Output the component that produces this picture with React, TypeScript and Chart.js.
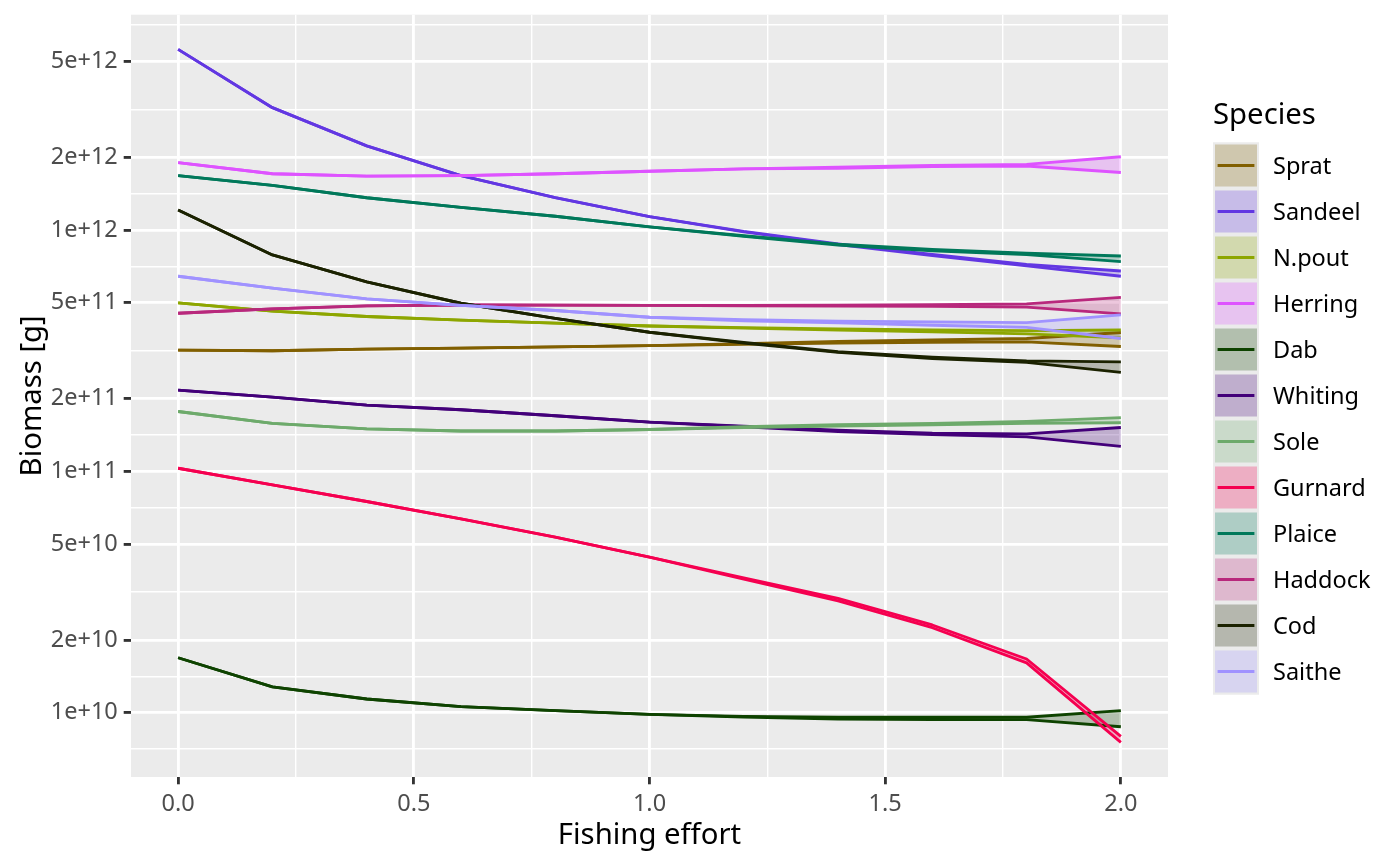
import React, { useEffect, useRef } from "react";
import { Chart, registerables } from "chart.js";

Chart.register(...registerables);

const FONT = '"Noto Sans", "Open Sans", sans-serif';

// Fishing effort values (x)
const effort = [0, 0.2, 0.4, 0.6, 0.8, 1.0, 1.2, 1.4, 1.6, 1.8, 2.0];

const speciesNames = [
  "Sprat", "Sandeel", "N.pout", "Herring", "Dab", "Whiting",
  "Sole", "Gurnard", "Plaice", "Haddock", "Cod", "Saithe",
];
const speciesColours = [
  "#815f00", "#6237e2", "#8da600", "#de53ff", "#0e4300", "#430079",
  "#6daa6b", "#f50050", "#00785a", "#b8287c", "#1b2200", "#a092ff",
];

// Biomass [g] – upper and lower bounds per species
const spratUpper = [3.18e11, 3.16e11, 3.21e11, 3.24e11, 3.28e11, 3.32e11, 3.38e11, 3.45e11, 3.5e11, 3.55e11, 3.76e11];
const spratLower = [3.18e11, 3.16e11, 3.21e11, 3.24e11, 3.28e11, 3.32e11, 3.36e11, 3.4e11, 3.42e11, 3.44e11, 3.29e11];

const sandeelUpper = [5.6e12, 3.21e12, 2.23e12, 1.68e12, 1.36e12, 1.135e12, 9.86e11, 8.76e11, 7.92e11, 7.2e11, 6.76e11];
const sandeelLower = [5.6e12, 3.21e12, 2.23e12, 1.68e12, 1.36e12, 1.135e12, 9.82e11, 8.7e11, 7.84e11, 7.1e11, 6.43e11];

const npoutUpper = [4.99e11, 4.61e11, 4.38e11, 4.23e11, 4.11e11, 4.0e11, 3.94e11, 3.89e11, 3.85e11, 3.83e11, 3.85e11];
const npoutLower = [4.99e11, 4.61e11, 4.38e11, 4.23e11, 4.11e11, 4.0e11, 3.92e11, 3.85e11, 3.78e11, 3.71e11, 3.57e11];

const herringUpper = [1.9e12, 1.71e12, 1.67e12, 1.68e12, 1.71e12, 1.75e12, 1.79e12, 1.82e12, 1.85e12, 1.87e12, 2.01e12];
const herringLower = [1.9e12, 1.71e12, 1.67e12, 1.68e12, 1.71e12, 1.75e12, 1.79e12, 1.8e12, 1.83e12, 1.84e12, 1.73e12];

const dabUpper = [1.69e10, 1.28e10, 1.14e10, 1.06e10, 1.02e10, 9.84e9, 9.66e9, 9.59e9, 9.58e9, 9.58e9, 1.02e10];
const dabLower = [1.69e10, 1.28e10, 1.14e10, 1.06e10, 1.02e10, 9.84e9, 9.6e9, 9.42e9, 9.38e9, 9.36e9, 8.75e9];

const whitingUpper = [2.17e11, 2.03e11, 1.88e11, 1.8e11, 1.7e11, 1.6e11, 1.54e11, 1.48e11, 1.44e11, 1.43e11, 1.52e11];
const whitingLower = [2.17e11, 2.03e11, 1.88e11, 1.8e11, 1.7e11, 1.6e11, 1.53e11, 1.46e11, 1.42e11, 1.39e11, 1.27e11];

const soleUpper = [1.77e11, 1.58e11, 1.5e11, 1.47e11, 1.47e11, 1.49e11, 1.53e11, 1.56e11, 1.58e11, 1.61e11, 1.67e11];
const soleLower = [1.77e11, 1.58e11, 1.5e11, 1.47e11, 1.47e11, 1.49e11, 1.52e11, 1.54e11, 1.56e11, 1.58e11, 1.59e11];

const gurnardUpper = [1.03e11, 8.79e10, 7.5e10, 6.35e10, 5.34e10, 4.41e10, 3.62e10, 2.98e10, 2.31e10, 1.67e10, 7.98e9];
const gurnardLower = [1.03e11, 8.79e10, 7.5e10, 6.35e10, 5.34e10, 4.41e10, 3.58e10, 2.91e10, 2.25e10, 1.61e10, 7.54e9];

const plaiceUpper = [1.68e12, 1.53e12, 1.36e12, 1.24e12, 1.14e12, 1.03e12, 9.46e11, 8.74e11, 8.3e11, 8.02e11, 7.8e11];
const plaiceLower = [1.68e12, 1.53e12, 1.36e12, 1.24e12, 1.14e12, 1.03e12, 9.42e11, 8.66e11, 8.2e11, 7.9e11, 7.39e11];

const haddockUpper = [4.52e11, 4.71e11, 4.85e11, 4.89e11, 4.88e11, 4.87e11, 4.87e11, 4.88e11, 4.9e11, 4.94e11, 5.26e11];
const haddockLower = [4.52e11, 4.71e11, 4.85e11, 4.89e11, 4.88e11, 4.87e11, 4.85e11, 4.84e11, 4.83e11, 4.79e11, 4.49e11];

const codUpper = [1.21e12, 7.88e11, 6.1e11, 4.97e11, 4.3e11, 3.77e11, 3.42e11, 3.13e11, 2.97e11, 2.87e11, 2.84e11];
const codLower = [1.21e12, 7.88e11, 6.1e11, 4.97e11, 4.3e11, 3.77e11, 3.4e11, 3.11e11, 2.93e11, 2.83e11, 2.57e11];

const saitheUpper = [6.43e11, 5.74e11, 5.18e11, 4.87e11, 4.64e11, 4.35e11, 4.25e11, 4.19e11, 4.16e11, 4.13e11, 4.45e11];
const saitheLower = [6.43e11, 5.74e11, 5.18e11, 4.87e11, 4.64e11, 4.35e11, 4.2e11, 4.12e11, 4.03e11, 3.95e11, 3.55e11];

const upperSeries = [
  spratUpper, sandeelUpper, npoutUpper, herringUpper, dabUpper, whitingUpper,
  soleUpper, gurnardUpper, plaiceUpper, haddockUpper, codUpper, saitheUpper,
];
const lowerSeries = [
  spratLower, sandeelLower, npoutLower, herringLower, dabLower, whitingLower,
  soleLower, gurnardLower, plaiceLower, haddockLower, codLower, saitheLower,
];

// Axis breaks and labels
const xTickValues = [0, 0.5, 1.0, 1.5, 2.0];
const xTickLabels = ["0.0", "0.5", "1.0", "1.5", "2.0"];
const yTickValues = [1e10, 2e10, 5e10, 1e11, 2e11, 5e11, 1e12, 2e12, 5e12];
const yTickLabels = ["1e+10", "2e+10", "5e+10", "1e+11", "2e+11", "5e+11", "1e+12", "2e+12", "5e+12"];
const yBreakBelow = 5e9;
const yBreakAbove = 1e13;

function hexToRgba(hex: string, a: number) {
  const n = parseInt(hex.slice(1), 16);
  return `rgba(${(n >> 16) & 255},${(n >> 8) & 255},${n & 255},${a})`;
}

const FILL_ALPHA = 0.26;
const LINE_W = 2.85;
const MAJOR_W = 2.85;
const MINOR_W = 1.42;

export default function App() {
  const ref = useRef<HTMLCanvasElement | null>(null);

  useEffect(() => {
    document.body.style.margin = "0";
    if (!ref.current) return;

    // x range with 5% expansion
    const xMin = Math.min(...effort);
    const xMax = Math.max(...effort);
    const xPad = (xMax - xMin) * 0.05;

    // y range (log) with 5% expansion
    const allVals = [...upperSeries.flat(), ...lowerSeries.flat()];
    const lMin = Math.log10(Math.min(...allVals));
    const lMax = Math.log10(Math.max(...allVals));
    const lPad = (lMax - lMin) * 0.05;
    const yMin = Math.pow(10, lMin - lPad);
    const yMax = Math.pow(10, lMax + lPad);

    // minor breaks: midpoints between major breaks
    const xMinor: number[] = [];
    for (let i = 0; i < xTickValues.length - 1; i++) xMinor.push((xTickValues[i] + xTickValues[i + 1]) / 2);
    const yExt = [yBreakBelow, ...yTickValues, yBreakAbove];
    const yMinor: number[] = [];
    for (let i = 0; i < yExt.length - 1; i++) {
      const m = Math.sqrt(yExt[i] * yExt[i + 1]);
      if (m >= yMin && m <= yMax) yMinor.push(m);
    }
    const xAll = [...xTickValues, ...xMinor].sort((a, b) => a - b);
    const yAll = [...yTickValues, ...yMinor].sort((a, b) => a - b);
    const xMajorSet = new Set(xTickValues);
    const yMajorSet = new Set(yTickValues);

    const datasets: any[] = [];
    // reverse so the last species is drawn on top (as in ggplot)
    for (let s = speciesNames.length - 1; s >= 0; s--) {
      const col = speciesColours[s];
      datasets.push({
        label: speciesNames[s] + " upper",
        data: effort.map((x, i) => ({ x, y: upperSeries[s][i] })),
        borderColor: col,
        borderWidth: LINE_W,
        backgroundColor: hexToRgba(col, FILL_ALPHA),
        fill: "+1",
        pointRadius: 0,
        tension: 0,
        borderJoinStyle: "round",
      });
      datasets.push({
        label: speciesNames[s] + " lower",
        data: effort.map((x, i) => ({ x, y: lowerSeries[s][i] })),
        borderColor: col,
        borderWidth: LINE_W,
        backgroundColor: hexToRgba(col, FILL_ALPHA),
        fill: false,
        pointRadius: 0,
        tension: 0,
        borderJoinStyle: "round",
      });
    }

    const ggPlugin = {
      id: "ggstyle",
      beforeDraw(chart: any) {
        const { ctx, chartArea: a } = chart;
        ctx.save();
        ctx.fillStyle = "#ffffff";
        ctx.fillRect(0, 0, chart.width, chart.height);
        ctx.fillStyle = "#ebebeb";
        ctx.fillRect(a.left, a.top, a.right - a.left, a.bottom - a.top);
        ctx.restore();
      },
      afterDraw(chart: any) {
        const { ctx } = chart;
        ctx.save();
        const lx = 1213;
        const keyTop = 142.5;
        const key = 46;
        ctx.fillStyle = "#000000";
        ctx.textBaseline = "middle";
        ctx.textAlign = "left";
        ctx.font = `29.3px ${FONT}`;
        ctx.fillText("Species", lx, 115.5);
        ctx.fillStyle = "#ebebeb";
        ctx.fillRect(lx, keyTop, key, key * speciesNames.length);
        speciesNames.forEach((name, i) => {
          const top = keyTop + i * key;
          const col = speciesColours[i];
          ctx.fillStyle = "#ebebeb";
          ctx.fillRect(lx, top, key, key);
          ctx.fillStyle = hexToRgba(col, FILL_ALPHA);
          ctx.fillRect(lx + 2, top + 2, key - 4, key - 4);
          ctx.strokeStyle = col;
          ctx.lineWidth = LINE_W;
          ctx.lineCap = "butt";
          ctx.beginPath();
          ctx.moveTo(lx + key * 0.1, top + key / 2);
          ctx.lineTo(lx + key * 0.9, top + key / 2);
          ctx.stroke();
          ctx.fillStyle = "#000000";
          ctx.font = `23.5px ${FONT}`;
          ctx.fillText(name, 1273, top + key / 2 + 1.5);
        });
        ctx.restore();
      },
    };

    const chart = new Chart(ref.current, {
      type: "line",
      data: { datasets },
      plugins: [ggPlugin],
      options: {
        responsive: false,
        animation: false,
        events: [],
        layout: { padding: { left: 0, right: 232, top: 14.7, bottom: 0 } },
        plugins: {
          legend: { display: false },
          tooltip: { enabled: false },
          filler: { drawTime: "beforeDatasetsDraw" },
        },
        scales: {
          x: {
            type: "linear",
            min: xMin - xPad,
            max: xMax + xPad,
            afterBuildTicks: (scale: any) => {
              scale.ticks = xAll.map((v) => ({ value: v }));
            },
            afterFit: (scale: any) => {
              scale.height = 89;
              scale.paddingLeft = 0;
              scale.paddingRight = 0;
            },
            ticks: {
              autoSkip: false,
              maxRotation: 0,
              padding: 6,
              color: "#4d4d4d",
              font: { family: FONT, size: 23.5 },
              callback: (v: any) => {
                const idx = xTickValues.indexOf(Number(v));
                return idx >= 0 ? xTickLabels[idx] : "";
              },
            },
            grid: {
              color: "#ffffff",
              lineWidth: (c: any) => (c.tick && xMajorSet.has(c.tick.value) ? MAJOR_W : MINOR_W),
              tickColor: (c: any) => (c.tick && xMajorSet.has(c.tick.value) ? "#333333" : "rgba(0,0,0,0)"),
              tickLength: 7.3,
              tickWidth: MAJOR_W,
              drawTicks: true,
            },
            border: { display: false },
            title: {
              display: true,
              text: "Fishing effort",
              color: "#000000",
              font: { family: FONT, size: 29.3, lineHeight: 1.2 },
              padding: { top: 0, bottom: 12.6 },
            },
          },
          y: {
            type: "logarithmic",
            min: yMin,
            max: yMax,
            afterBuildTicks: (scale: any) => {
              scale.ticks = yAll.map((v) => ({ value: v }));
            },
            afterFit: (scale: any) => {
              scale.width = 131;
              scale.paddingTop = 0;
              scale.paddingBottom = 0;
            },
            ticks: {
              autoSkip: false,
              padding: 5.9,
              color: "#4d4d4d",
              font: { family: FONT, size: 23.5 },
              callback: (v: any) => {
                const idx = yTickValues.indexOf(Number(v));
                return idx >= 0 ? yTickLabels[idx] : "";
              },
            },
            grid: {
              color: "#ffffff",
              lineWidth: (c: any) => (c.tick && yMajorSet.has(c.tick.value) ? MAJOR_W : MINOR_W),
              tickColor: (c: any) => (c.tick && yMajorSet.has(c.tick.value) ? "#333333" : "rgba(0,0,0,0)"),
              tickLength: 7.3,
              tickWidth: MAJOR_W,
              drawTicks: true,
            },
            border: { display: false },
            title: {
              display: true,
              text: "Biomass [g]",
              color: "#000000",
              font: { family: FONT, size: 29.3, lineHeight: 1.2 },
              padding: { top: 15.5, bottom: 0 },
            },
          },
        },
      } as any,
    });

    return () => {
      chart.destroy();
    };
  }, []);

  return (
    <div style={{ position: "absolute", left: 0, top: 0, width: 1400, height: 866, background: "#ffffff" }}>
      <canvas ref={ref} width={1400} height={866} style={{ width: 1400, height: 866, display: "block" }} />
    </div>
  );
}
